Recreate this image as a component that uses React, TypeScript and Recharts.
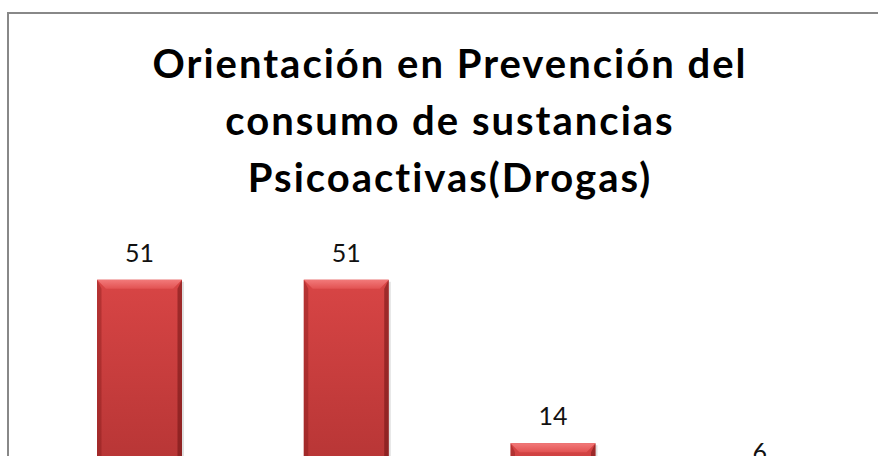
import React from 'react'
import { BarChart, Bar, XAxis, YAxis, LabelList } from 'recharts'

const categories = ['Sí', 'A veces', 'No', 'No responde']
const counts = [51, 51, 14, 6]
const yDomain: [number, number] = [0, 60]

const titleLines = [
  'Orientación en Prevención del',
  'consumo de sustancias',
  'Psicoactivas(Drogas)',
]

const data = categories.map((name, i) => ({ name, value: counts[i] }))

const FONT = 'Lato, "Open Sans", sans-serif'

function BevelBar(props: any) {
  const { x, y, width, height } = props
  if (!height || height <= 0) return null
  const b = Math.min(9, height / 2)
  return (
    <g>
      <rect x={x + 2} y={y + 2} width={width} height={height} fill="rgba(0,0,0,0.12)" />
      <rect x={x} y={y} width={width} height={height} fill="url(#barFace)" />
      {/* top bevel */}
      <polygon
        points={`${x},${y} ${x + width},${y} ${x + width - b},${y + b} ${x + b},${y + b}`}
        fill="url(#barTop)"
      />
      {/* side bevels */}
      <polygon
        points={`${x},${y} ${x + b * 0.5},${y + b} ${x + b * 0.5},${y + height} ${x},${y + height}`}
        fill="rgba(120,20,20,0.35)"
      />
      <polygon
        points={`${x + width},${y} ${x + width - b * 0.5},${y + b} ${x + width - b * 0.5},${y + height} ${x + width},${y + height}`}
        fill="rgba(90,10,10,0.45)"
      />
    </g>
  )
}

export default function App() {
  return (
    <div
      style={{
        position: 'fixed',
        left: 0,
        top: 0,
        width: 878,
        height: 456,
        overflow: 'hidden',
        background: '#fff',
      }}
    >
      <div
        style={{
          position: 'absolute',
          left: 7,
          top: 12,
          width: 871,
          height: 444,
          borderTop: '2px solid #888',
          borderLeft: '2px solid #888',
          boxSizing: 'border-box',
        }}
      />
      <div
        style={{
          position: 'absolute',
          left: 2,
          top: 35,
          width: 896,
          textAlign: 'center',
          fontFamily: FONT,
          fontWeight: 700,
          fontSize: 40,
          letterSpacing: 2,
          lineHeight: '57px',
          color: '#000',
        }}
      >
        {titleLines.map((t) => (
          <div key={t}>{t}</div>
        ))}
      </div>
      <div style={{ position: 'absolute', left: 0, top: 0 }}>
        <BarChart
          width={878}
          height={560}
          data={data}
          margin={{ top: 240, right: 15, bottom: 55, left: 36 }}
        >
          <defs>
            <linearGradient id="barFace" x1="0" y1="0" x2="0" y2="1">
              <stop offset="0%" stopColor="#d84545" />
              <stop offset="100%" stopColor="#b03232" />
            </linearGradient>
            <linearGradient id="barTop" x1="0" y1="0" x2="0" y2="1">
              <stop offset="0%" stopColor="#f27a7a" />
              <stop offset="100%" stopColor="#e25252" />
            </linearGradient>
          </defs>
          <XAxis dataKey="name" hide />
          <YAxis hide domain={yDomain} />
          <Bar dataKey="value" barSize={85} shape={<BevelBar />} isAnimationActive={false}>
            <LabelList
              dataKey="value"
              position="top"
              offset={18}
              style={{ fontFamily: FONT, fontSize: 25, fill: '#111' }}
            />
          </Bar>
        </BarChart>
      </div>
    </div>
  )
}
